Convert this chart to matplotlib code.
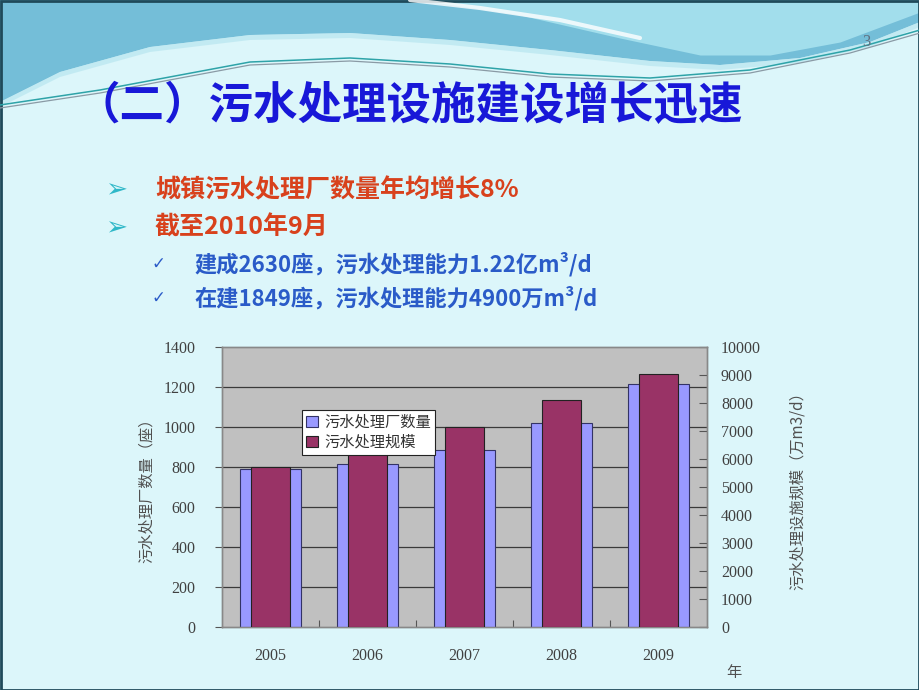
import numpy as np
import matplotlib
matplotlib.use('Agg')
import matplotlib.pyplot as plt
from matplotlib.patches import Rectangle, Patch

# data
years = ['2005', '2006', '2007', '2008', '2009']
plant_count = [792, 815, 883, 1018, 1214]          # 座 (left axis)
capacity = [5725, 6366, 7146, 8106, 9052]          # 万m3/d (right axis)
series_names = ['污水处理厂数量', '污水处理规模']
left_ticks = [0, 200, 400, 600, 800, 1000, 1200, 1400]
right_ticks = [0, 1000, 2000, 3000, 4000, 5000, 6000, 7000, 8000, 9000, 10000]

title = '（二）污水处理设施建设增长迅速'
bullets = ['城镇污水处理厂数量年均增长8%', '截至2010年9月']
sub_bullets = ['建成2630座，污水处理能力1.22亿m³/d', '在建1849座，污水处理能力4900万m³/d']

CJK = ['Noto Sans CJK SC', 'DejaVu Sans']
SERIF = ['Liberation Serif', 'DejaVu Serif']
BG = '#DCF6FA'

fig = plt.figure(figsize=(9.2, 6.9), dpi=100, facecolor=BG)

# slide background and top wave decoration (pixel coords)
bg = fig.add_axes([0, 0, 1, 1], zorder=-1)
bg.set_xlim(0, 920)
bg.set_ylim(690, 0)
bg.axis('off')
bg.add_patch(Rectangle((0, 0), 920, 690, facecolor=BG, edgecolor='none'))

xs = np.array([0, 60, 150, 250, 350, 450, 550, 650, 720, 800, 870, 920])
dark_edge = np.array([102, 72, 47, 35, 33, 40, 50, 61, 65, 58, 42, 22])
bg.fill_between(xs, 0, dark_edge, color='#74BED8', lw=0)
bg.fill_between(xs, dark_edge, dark_edge + 5, color='#B2E3EE', lw=0, alpha=0.6)

xr = np.array([420, 520, 620, 700, 770, 840, 920])
light_edge = np.array([0, 15, 38, 55, 55, 42, 12])
bg.fill_between(xr, 0, light_edge, color='#A2DEEC', lw=0)
bg.plot([410, 480, 560, 640], [0, 8, 20, 38], color='white', lw=3, alpha=0.8,
        solid_capstyle='round')

xl = np.array([0, 100, 250, 350, 450, 550, 650, 750, 850, 920])
line_y = np.array([105, 90, 62, 58, 64, 74, 78, 70, 50, 30])
bg.plot(xl, line_y, color='#2EA3A8', lw=1.1)
bg.plot(xl, line_y + 3, color='#8A9AA5', lw=0.9)

bg.add_patch(Rectangle((0.5, 0.5), 919, 689, facecolor='none', edgecolor='#1F4A5A', lw=2))

bg.text(866, 42, '3', fontsize=12, family=SERIF, color='#607080', ha='center', va='center')
bg.text(76, 106, title, fontsize=32, family=CJK, weight='bold', color='#1818D8', ha='left', va='center')

for i, t in enumerate(bullets):
    y = 190 + i * 38
    bg.text(116, y, '➢', fontsize=19, family=['DejaVu Sans'], color='#2FB8C8', ha='center', va='center')
    bg.text(155, y, t, fontsize=18, family=CJK, weight='bold', color='#D8411C', ha='left', va='center')

for i, t in enumerate(sub_bullets):
    y = 264 + i * 34
    bg.text(158, y, '✓', fontsize=12, family=['DejaVu Sans'], color='#2A5BC8', ha='center', va='center')
    bg.text(194, y, t, fontsize=16, family=CJK, weight='bold', color='#2A5BC8', ha='left', va='center')

# chart
ax = fig.add_axes([222 / 920, 1 - 627 / 690, 485 / 920, 280 / 690])
ax2 = ax.twinx()
x = np.arange(len(years))

ax.set_facecolor('#C0C0C0')
ax.bar(x, plant_count, width=0.62, color='#9999FF', edgecolor='#333366', lw=0.8, zorder=3)
ax2.bar(x, capacity, width=0.40, color='#993366', edgecolor='#222222', lw=0.8, zorder=3)

ax.set_xlim(-0.5, len(years) - 0.5)
ax.set_ylim(0, 1400)
ax2.set_ylim(0, 10000)
ax.set_yticks(left_ticks)
ax2.set_yticks(right_ticks)
for v in left_ticks[1:-1]:
    ax.axhline(v, color='#3A3A3A', lw=0.9, zorder=1)

tick_kw = dict(labelsize=11.5, labelcolor='#404040', colors='#555555')
ax.tick_params(axis='y', direction='out', length=5, width=0.8, pad=14, **tick_kw)
ax2.tick_params(axis='y', direction='in', length=6, width=0.8, pad=10, **tick_kw)
ax.set_xticks(x)
ax.set_xticklabels(years)
ax.tick_params(axis='x', length=0, pad=15, **tick_kw)
ax.set_xticks(np.arange(0.5, len(years) - 0.5), minor=True)
ax.tick_params(axis='x', which='minor', direction='in', length=5, width=0.8, color='#555555')
for a in (ax, ax2):
    for lab in a.get_xticklabels() + a.get_yticklabels():
        lab.set_family(SERIF)
    for s in a.spines.values():
        s.set_color('#888888')
        s.set_linewidth(1.0)

ax.set_ylabel('污水处理厂数量（座）', family=CJK, fontsize=11, color='#505050', labelpad=6)
ax2.set_ylabel('污水处理设施规模（万m3/d）', family=CJK, fontsize=11, color='#505050', labelpad=20)
bg.text(734, 672, '年', family=CJK, fontsize=11, color='#505050', ha='center', va='center')

handles = [Patch(facecolor='#9999FF', edgecolor='#333366', lw=0.8),
           Patch(facecolor='#993366', edgecolor='#222222', lw=0.8)]
leg = ax2.legend(handles, series_names, loc='upper left', bbox_to_anchor=(0.165, 0.775),
                 prop={'family': CJK, 'size': 11}, frameon=True, fancybox=False,
                 edgecolor='#222222', framealpha=1, borderaxespad=0, borderpad=0.25,
                 handlelength=0.8, handleheight=0.8, handletextpad=0.4, labelspacing=0.2)
leg.get_frame().set_linewidth(0.8)
leg.set_zorder(10)
for t in leg.get_texts():
    t.set_color('#333333')

fig.savefig('out.png', dpi=100, facecolor=BG)
